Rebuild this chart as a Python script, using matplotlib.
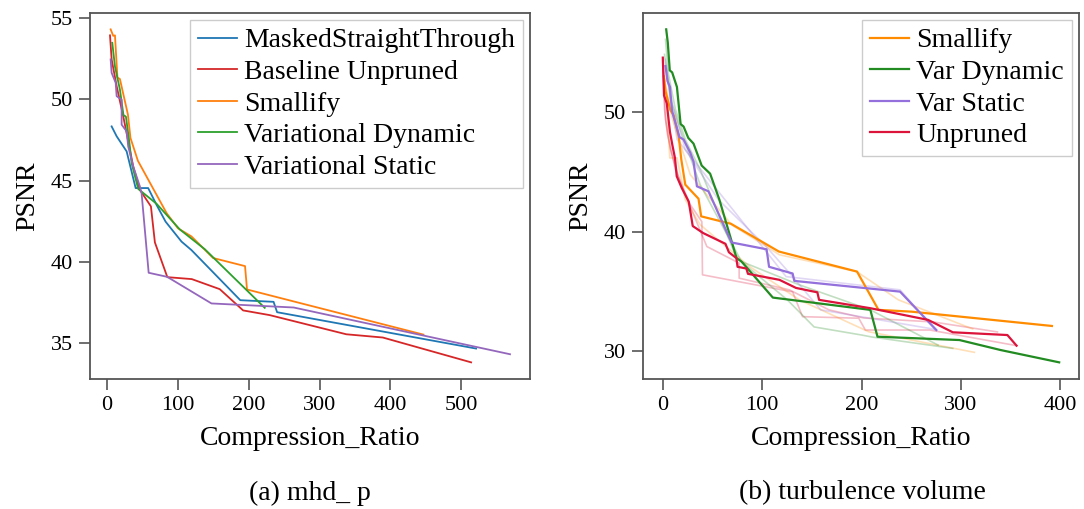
import matplotlib
matplotlib.use("Agg")
import matplotlib.pyplot as plt

plt.rcParams['font.family'] = ['Liberation Serif', 'DejaVu Serif']

# ---------------- (a) mhd_ p ----------------
mst_x = [6.3, 13.4, 27.5, 40.2, 57.9, 69.8, 82.5, 105, 119, 188, 235, 240, 521]
mst_y = [48.34, 47.73, 46.80, 44.54, 44.54, 43.50, 42.47, 41.24, 40.72, 37.63, 37.53, 36.89, 34.65]

base_x = [4.0, 6.3, 13.4, 22.7, 36.8, 46.2, 61.8, 67.4, 85, 119.5, 159, 192, 229.6, 337.7, 389.3, 514]
base_y = [53.95, 52.47, 50.82, 48.96, 45.87, 44.43, 43.41, 41.19, 39.05, 38.93, 38.31, 37.0, 36.71, 35.53, 35.33, 33.80]

sm_x = [4.9, 8.6, 11, 14.5, 18, 29.3, 32.9, 43.4, 84, 100, 119, 149.6, 194.7, 197.5, 446.6]
sm_y = [54.32, 53.92, 53.95, 51.35, 51.26, 49.07, 47.63, 46.22, 42.99, 42.06, 41.56, 40.23, 39.73, 38.29, 35.51]

vd_x = [7.2, 11, 18, 23, 26.5, 31.4, 34.5, 43.8, 69.8, 102.6, 137.9, 222.5]
vd_y = [53.49, 52.03, 50.61, 49.04, 48.94, 47.34, 46.08, 44.49, 43.57, 41.99, 40.77, 37.16]

vs_x = [4.9, 6.3, 12, 13.4, 20.4, 20.4, 27.5, 29.7, 36.8, 46.2, 48.6, 58.6, 84.7, 147.3, 263.4, 568.9]
vs_y = [52.47, 51.64, 51.03, 50.20, 49.99, 48.45, 48.03, 47.11, 45.87, 44.64, 44.23, 39.32, 39.07, 37.43, 37.18, 34.30]

left_series = [
    ("MaskedStraightThrough", mst_x, mst_y, "tab:blue"),
    ("Baseline Unpruned", base_x, base_y, "tab:red"),
    ("Smallify", sm_x, sm_y, "tab:orange"),
    ("Variational Dynamic", vd_x, vd_y, "tab:green"),
    ("Variational Static", vs_x, vs_y, "tab:purple"),
]

# ---------------- (b) turbulence volume ----------------
tsm_x = [1.0, 2.7, 7.7, 11, 16, 18.6, 22.6, 35.9, 38.6, 68.5, 116.8, 195.4, 217, 250.3, 391.5]
tsm_y = [53.03, 51.79, 50.17, 49.75, 48.0, 46.05, 43.95, 42.77, 41.29, 40.67, 38.34, 36.66, 33.45, 33.30, 32.10]

tvd_x = [3.4, 5.0, 7.0, 9.4, 14.2, 17.9, 20.9, 25.6, 30.9, 39.1, 47.6, 56.9, 74.2, 79.2, 110.7, 208.8, 216, 298.5, 340, 398.8]
tvd_y = [56.97, 55.86, 53.53, 53.36, 52.14, 49.03, 48.82, 47.87, 47.39, 45.55, 44.87, 42.69, 37.79, 37.50, 34.48, 33.45, 31.20, 30.92, 30.08, 29.05]

tvs_x = [2.7, 4.7, 7.2, 9.2, 10.7, 13.7, 16.7, 20.9, 27.6, 30.9, 34.3, 45.9, 69.2, 104.4, 106.9, 130.6, 132.3, 238.7, 275.2]
tvs_y = [53.89, 52.63, 52.14, 50.17, 49.69, 48.85, 47.94, 47.73, 46.64, 45.88, 43.81, 43.39, 39.10, 38.53, 37.06, 36.50, 35.88, 34.98, 31.76]

tun_x = [0, 1.2, 4.0, 7.2, 9.7, 12.2, 14.0, 19.1, 26.1, 30.1, 40.6, 63, 66.5, 74, 75.2, 84, 85.7, 117.3, 134, 155.5, 157.2, 208.8, 266.9, 291.8, 346.7, 355.9]
tun_y = [54.60, 51.43, 50.76, 48.36, 47.23, 46.19, 44.65, 43.66, 42.52, 40.48, 39.89, 38.99, 38.28, 37.79, 37.06, 36.92, 36.47, 35.97, 35.29, 34.92, 34.29, 33.59, 32.61, 31.57, 31.34, 30.45]

# faint (other runs)
f_red1_x = [0, 1.7, 4.7, 12.7, 27.6, 39.3, 39.9, 130.6, 140.6, 197.1, 203.8, 268.6, 356]
f_red1_y = [54.45, 50.25, 48.15, 45.21, 42.27, 40.84, 36.39, 34.96, 32.88, 32.75, 31.76, 31.76, 30.45]
f_red2_x = [0, 2.7, 7.7, 17.6, 44.3, 76.8, 76.8, 127.3, 167.2, 202.1, 271.9, 336.7]
f_red2_y = [54.29, 49.41, 46.89, 44.12, 38.76, 37.37, 36.11, 35.13, 33.45, 32.77, 32.44, 31.60]
f_or1_x = [0.7, 3.7, 7.0, 14.4, 22.6, 37.6, 87.4, 137.3, 207, 313.5]
f_or1_y = [53.61, 51.09, 46.19, 46.19, 42.69, 40.59, 37.08, 34.29, 31.62, 29.89]
f_or2_x = [1.7, 9.7, 27.6, 69.2, 117.3, 195.1, 237, 311.8]
f_or2_y = [52.77, 49.41, 44.79, 40.59, 38.07, 36.66, 34.29, 31.85]
f_gr1_x = [2.7, 5.7, 12.7, 22.6, 37.6, 74.2, 125.3, 152.2, 200.1, 210, 291.7]
f_gr1_y = [56.13, 53.19, 50.25, 47.73, 45.21, 37.82, 34.29, 32.02, 31.34, 31.18, 30.22]
f_gr2_x = [1.7, 7.7, 17.6, 37.6, 79.2, 137.3, 208.8, 276.9]
f_gr2_y = [54.87, 51.09, 48.57, 43.95, 37.50, 35.55, 33.45, 30.50]
f_pu1_x = [2.7, 7.7, 14.4, 124, 238.7, 273.6]
f_pu1_y = [54.45, 51.09, 47.73, 36.24, 35.13, 31.82]
f_pu2_x = [3.7, 9.7, 22.6, 55.9, 103.4, 129, 158.9, 273.6]
f_pu2_y = [53.19, 50.67, 46.89, 42.69, 38.82, 36.39, 33.45, 31.82]

faint_series = [
    (f_red1_x, f_red1_y, "crimson"), (f_red2_x, f_red2_y, "crimson"),
    (f_or1_x, f_or1_y, "darkorange"), (f_or2_x, f_or2_y, "darkorange"),
    (f_gr1_x, f_gr1_y, "forestgreen"), (f_gr2_x, f_gr2_y, "forestgreen"),
    (f_pu1_x, f_pu1_y, "mediumpurple"), (f_pu2_x, f_pu2_y, "mediumpurple"),
]

right_series = [
    ("Smallify", tsm_x, tsm_y, "darkorange"),
    ("Var Dynamic", tvd_x, tvd_y, "forestgreen"),
    ("Var Static", tvs_x, tvs_y, "mediumpurple"),
    ("Unpruned", tun_x, tun_y, "crimson"),
]

W, H = 1084, 509
fig = plt.figure(figsize=(W / 100, H / 100), dpi=100)
axL = fig.add_axes([90 / W, 1 - 379 / H, 440 / W, 366.3 / H])
axR = fig.add_axes([643 / W, 1 - 379 / H, 436 / W, 366.3 / H])

for name, xs, ys, c in left_series:
    axL.plot(xs, ys, color=c, lw=1.3, label=name)

for xs, ys, c in faint_series:
    axR.plot(xs, ys, color=c, lw=1.2, alpha=0.28)
for name, xs, ys, c in right_series:
    axR.plot(xs, ys, color=c, lw=1.6, label=name)

axL.set_xticks([0, 100, 200, 300, 400, 500])
axL.set_yticks([35, 40, 45, 50, 55])
axR.set_xticks([0, 100, 200, 300, 400])
axR.set_yticks([30, 40, 50])

leg_kw = dict(loc="upper right", fontsize=20, labelspacing=0.22, handlelength=1.4,
              handletextpad=0.25, borderpad=0.3, borderaxespad=0.25, fancybox=False,
              edgecolor="#cccccc", framealpha=1.0)
for ax in (axL, axR):
    for s in ax.spines.values():
        s.set_linewidth(1.3)
        s.set_color("#555555")
    ax.tick_params(labelsize=16, length=8, width=1.2, color="#555555", pad=4)
    ax.set_xlabel("Compression_Ratio", fontsize=20, labelpad=8)
    ax.set_ylabel("PSNR", fontsize=20, labelpad=8)
    leg = ax.legend(**leg_kw)
    leg.get_frame().set_linewidth(1.0)

fig.text(310 / W, 1 - 493 / H, "(a) mhd_ p", ha="center", va="center", fontsize=20)
fig.text(862 / W, 1 - 493 / H, "(b) turbulence volume", ha="center", va="center", fontsize=20)

fig.savefig("out.png", dpi=100)
